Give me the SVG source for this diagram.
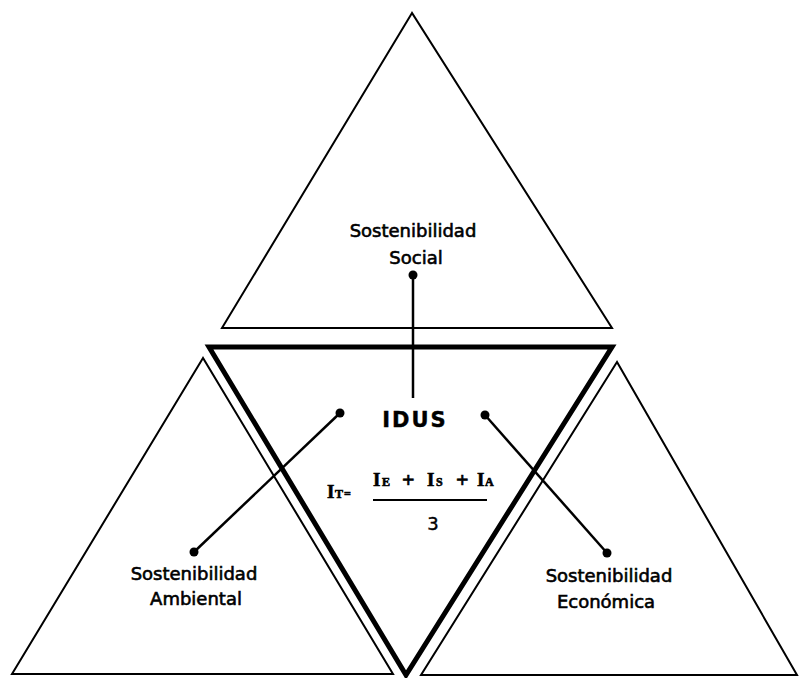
<svg xmlns="http://www.w3.org/2000/svg" width="800" height="678" viewBox="0 0 800 678">
<style>
.tri{fill:none;stroke:#000;stroke-width:2;stroke-linejoin:miter}
.thick{fill:none;stroke:#000;stroke-width:5;stroke-linejoin:miter}
.lbl{font-family:"DejaVu Sans",Verdana,sans-serif;font-size:18px;fill:#000;stroke:#000;stroke-width:0.6;text-anchor:middle}
.conn{stroke:#000;stroke-width:2.5;fill:none}
.dot{fill:#000}
.f{font-family:"Liberation Serif","Times New Roman",serif;font-weight:bold;fill:#000;stroke:#000;stroke-width:0.6}
.big{font-size:19px}
.sub{font-size:12px}
.plus{font-size:22px}
</style>
<rect width="800" height="678" fill="#fff"/>
<g id="social">
<polygon class="tri" points="412,13 222,328 612,328"/>
<text class="lbl" x="413" y="237">Sostenibilidad</text>
<text class="lbl" x="416" y="264">Social</text>
</g>
<g id="ambiental">
<polygon class="tri" points="203,358 12,674 393,674"/>
<text class="lbl" x="194" y="580">Sostenibilidad</text>
<text class="lbl" x="196" y="605">Ambiental</text>
</g>
<g id="economica">
<polygon class="tri" points="617,362 421,675 797,675"/>
<text class="lbl" x="609" y="582">Sostenibilidad</text>
<text class="lbl" x="606" y="608">Económica</text>
</g>
<g id="idus">
<polygon class="thick" points="209,347 612,347 406,675"/>
<text x="415" y="427" font-family="DejaVu Sans,Verdana,sans-serif" font-weight="bold" font-size="21" letter-spacing="2" text-anchor="middle" fill="#000" stroke="#000" stroke-width="0.4">IDUS</text>
<g class="f">
<text class="big" x="327" y="498">I</text>
<text class="sub" x="335" y="498">T</text>
<text class="sub" x="344" y="498">=</text>
<text class="big" x="373" y="486">I</text>
<text class="sub" x="382" y="486">E</text>
<text class="plus" x="402" y="487">+</text>
<text class="big" x="427" y="486">I</text>
<text class="sub" x="436" y="486">S</text>
<text class="plus" x="456" y="487">+</text>
<text class="big" x="477" y="486">I</text>
<text class="sub" x="485" y="486">A</text>
</g>
<line x1="373" y1="500" x2="487" y2="500" stroke="#000" stroke-width="2"/>
<text x="433" y="530" font-family="DejaVu Sans,Verdana,sans-serif" font-size="18" text-anchor="middle" fill="#000" stroke="#000" stroke-width="0.4">3</text>
</g>
<g id="connectors">
<line class="conn" x1="413" y1="275" x2="413" y2="398"/>
<circle class="dot" cx="413" cy="275" r="4.5"/>
<line class="conn" x1="340" y1="413" x2="194" y2="552"/>
<circle class="dot" cx="340" cy="413" r="4.5"/>
<circle class="dot" cx="194" cy="552" r="4.5"/>
<line class="conn" x1="485" y1="415" x2="607" y2="553"/>
<circle class="dot" cx="485" cy="415" r="4.5"/>
<circle class="dot" cx="607" cy="553" r="4.5"/>
</g>
</svg>
